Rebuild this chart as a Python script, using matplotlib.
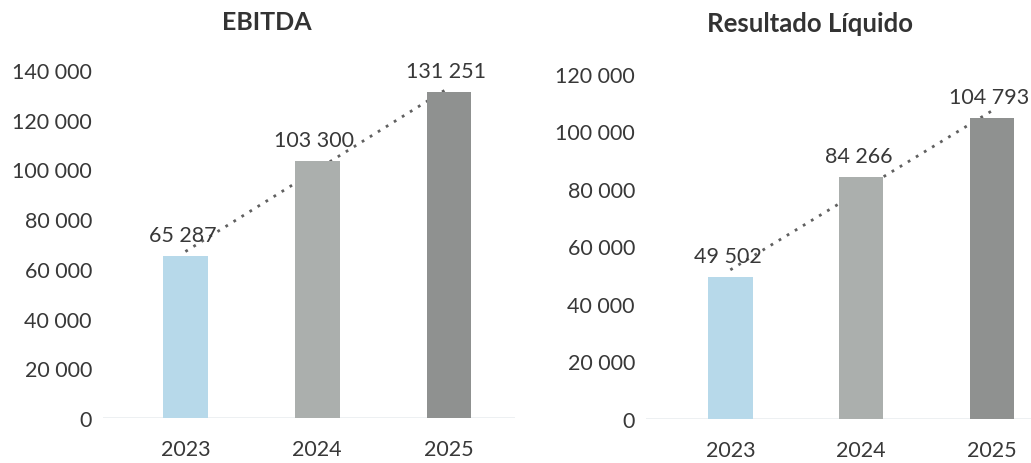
import matplotlib.pyplot as plt
import numpy as np

plt.rcParams['font.family'] = ['Lato', 'DejaVu Sans']

years = ['2023', '2024', '2025']
ebitda = [65287, 103300, 131251]
resultado = [49502, 84266, 104793]
bar_colors = ['#b7d9ea', '#abafad', '#8f9190']

W, H = 1031, 464


def fmt(v):
    return f"{v:,}".replace(",", " ")


fig = plt.figure(figsize=(W / 100, H / 100), dpi=100)

# axes positions measured in pixels from the reference
ax1 = fig.add_axes([103 / W, 45 / H, 412 / W, 348 / H])
ax2 = fig.add_axes([646 / W, 44 / H, 385 / W, 345 / H])


def draw(ax, values, ymax, xlim):
    x = np.arange(len(years))
    ax.bar(x, values, width=0.34, color=bar_colors, zorder=3)
    # excel style linear trendline
    k, b = np.polyfit(x, values, 1)
    ax.plot(x, k * x + b, linestyle=(0, (1, 2.4)), color='#606060',
            linewidth=2, zorder=2)
    for xi, v in zip(x, values):
        ax.annotate(fmt(v), (xi, v), xytext=(-2, 8), textcoords='offset points',
                    ha='center', va='bottom', fontsize=15.5, color='#383838',
                    annotation_clip=False, zorder=4)
    ax.axhline(0, color='#eaeef0', linewidth=1.2, zorder=1)
    ax.set_ylim(0, ymax)
    ax.set_xlim(*xlim)
    ticks = list(range(0, ymax + 1, 20000))
    ax.set_yticks(ticks)
    ax.set_yticklabels([fmt(t) for t in ticks])
    ax.set_xticks(x)
    ax.set_xticklabels(years)
    ax.tick_params(axis='both', length=0, labelsize=15.5, colors='#383838')
    ax.tick_params(axis='y', pad=8)
    ax.tick_params(axis='x', pad=15)
    for s in ax.spines.values():
        s.set_visible(False)


draw(ax1, ebitda, 140000, (-0.625, 2.5))
draw(ax2, resultado, 120000, (-0.645, 2.3))

fig.text(267 / W, 1 - 23 / H, 'EBITDA', ha='center', va='center',
         fontsize=18, fontweight='bold', color='#333333')
fig.text(810 / W, 1 - 24 / H, 'Resultado Líquido', ha='center', va='center',
         fontsize=18.5, fontweight='bold', color='#333333')

plt.savefig('out.png', dpi=100)
